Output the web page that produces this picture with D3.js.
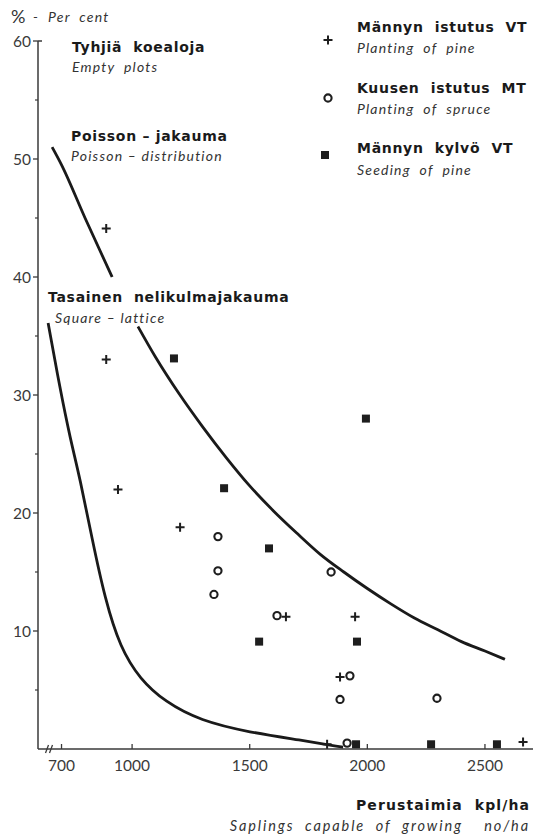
<!DOCTYPE html>
<html>
<head>
<meta charset="utf-8">
<script src="https://cdn.jsdelivr.net/npm/d3@7"></script>
<style>
  body { margin: 0; background: #fff; }
  text { font-family: Lato, "Open Sans", sans-serif; fill: #1e1e1e; white-space: pre; }
  .bold { font-family: "DejaVu Sans", sans-serif; font-weight: bold; font-size: 14px; letter-spacing: 0.7px; fill: #1a1a1a; }
  .ital { font-style: italic; font-size: 14px; letter-spacing: 1.2px; fill: #333; }
  .ital.wide { font-size: 14.5px; letter-spacing: 1.9px; }
  .bold.wide { letter-spacing: 1.1px; }
  .tick { font-size: 15.5px; fill: #3a3a3a; }
</style>
</head>
<body>
<script>
// data: saplings no/ha, per cent empty plots
var pinePlanting = [
  [890, 44.1], [890, 33.0], [940, 22.0], [1204, 18.8], [1654, 11.2],
  [1948, 11.2], [1884, 6.1], [1829, 0.4], [2662, 0.6]
];
var sprucePlanting = [
  [1365, 18.0], [1365, 15.1], [1348, 13.1], [1616, 11.3], [1846, 15.0],
  [1926, 6.2], [1884, 4.2], [2296, 4.3], [1914, 0.5]
];
var pineSeeding = [
  [1178, 33.1], [1391, 22.1], [1582, 17.0], [1994, 28.0], [1540, 9.1],
  [1956, 9.1], [1952, 0.4], [2271, 0.4], [2551, 0.4]
];
var poissonCurve = [
  [660, 51.0], [700, 49.5], [800, 45.0], [915, 40.0],
  [1025, 35.8], [1100, 33.2], [1200, 30.1], [1300, 27.3], [1400, 24.7],
  [1500, 22.3], [1600, 20.2], [1700, 18.3], [1800, 16.5], [1900, 15.0],
  [2000, 13.6], [2100, 12.3], [2200, 11.1], [2300, 10.1], [2400, 9.1],
  [2500, 8.3], [2585, 7.6]
];
var latticeCurve = [
  [643, 36.1], [694, 30.5], [737, 26.3], [779, 22.9], [830, 17.8],
  [885, 12.7], [949, 8.6], [1034, 5.9], [1140, 4.0], [1289, 2.4],
  [1501, 1.4], [1714, 0.76], [1897, 0.15]
];
var xTicks = [700, 1000, 1500, 2000, 2500];
var yTicks = [0, 10, 20, 30, 40, 50, 60];
var yMinor = [5, 15, 25, 35, 45, 55];

var svg = d3.select("body").append("svg")
    .attr("width", 541)
    .attr("height", 836);

var x = d3.scaleLinear().domain([600, 2700]).range([38, 532]);
var y = d3.scaleLinear().domain([0, 60]).range([749, 41]);

// axes
var axisCol = "#3a3a3a";
svg.append("line").attr("x1", 38).attr("x2", 38).attr("y1", y(60)).attr("y2", 749)
    .attr("stroke", axisCol).attr("stroke-width", 1.5);
svg.append("line").attr("x1", 38).attr("x2", 42).attr("y1", y(60)).attr("y2", y(60))
    .attr("stroke", axisCol).attr("stroke-width", 1.5);
svg.append("line").attr("x1", 38).attr("x2", 533).attr("y1", 749).attr("y2", 749)
    .attr("stroke", axisCol).attr("stroke-width", 1.5);

// axis break marks
[47, 51].forEach(function(bx) {
    svg.append("line")
        .attr("x1", bx - 1.5).attr("y1", 753).attr("x2", bx + 1.5).attr("y2", 745)
        .attr("stroke", axisCol).attr("stroke-width", 1.3);
});

svg.selectAll(".ytick").data(yTicks.slice(1))
  .enter().append("line")
    .attr("x1", 33).attr("x2", 38)
    .attr("y1", function(d) { return y(d); })
    .attr("y2", function(d) { return y(d); })
    .attr("stroke", axisCol).attr("stroke-width", 1.3);
svg.selectAll(".yminor").data(yMinor)
  .enter().append("line")
    .attr("x1", 35).attr("x2", 38)
    .attr("y1", function(d) { return y(d); })
    .attr("y2", function(d) { return y(d); })
    .attr("stroke", axisCol).attr("stroke-width", 1.2);
svg.selectAll(".ylab").data(yTicks.slice(1))
  .enter().append("text")
    .attr("class", "tick")
    .attr("x", 31).attr("y", function(d) { return y(d) + 6; })
    .attr("text-anchor", "end")
    .text(function(d) { return d; });

svg.selectAll(".xtick").data(xTicks)
  .enter().append("line")
    .attr("x1", function(d) { return x(d); })
    .attr("x2", function(d) { return x(d); })
    .attr("y1", 744).attr("y2", 749)
    .attr("stroke", axisCol).attr("stroke-width", 1.3);
svg.selectAll(".xlab").data(xTicks)
  .enter().append("text")
    .attr("class", "tick")
    .attr("x", function(d) { return x(d); }).attr("y", 771)
    .attr("text-anchor", "middle")
    .text(function(d) { return d; });

// curves
var line = d3.line()
    .x(function(d) { return x(d[0]); })
    .y(function(d) { return y(d[1]); })
    .curve(d3.curveMonotoneX);

svg.append("path").datum(poissonCurve.filter(function(d) { return d[0] <= 915; }))
    .attr("d", line).attr("fill", "none").attr("stroke", "#1a1a1a").attr("stroke-width", 2.8);
svg.append("path").datum(poissonCurve.filter(function(d) { return d[0] >= 1025; }))
    .attr("d", line).attr("fill", "none").attr("stroke", "#1a1a1a").attr("stroke-width", 2.8);
svg.append("path").datum(latticeCurve)
    .attr("d", line.curve(d3.curveBasis)).attr("fill", "none").attr("stroke", "#1a1a1a").attr("stroke-width", 2.8);

// markers
function plus(g, cx, cy) {
    g.append("path")
        .attr("d", "M" + (cx - 4.5) + "," + cy + "H" + (cx + 4.5) + "M" + cx + "," + (cy - 4.5) + "V" + (cy + 4.5))
        .attr("stroke", "#1e1e1e").attr("stroke-width", 2);
}
function ring(g, cx, cy) {
    g.append("circle").attr("cx", cx).attr("cy", cy).attr("r", 3.6)
        .attr("fill", "none").attr("stroke", "#1e1e1e").attr("stroke-width", 2.1);
}
function square(g, cx, cy) {
    g.append("rect").attr("x", cx - 4).attr("y", cy - 4).attr("width", 8).attr("height", 8)
        .attr("fill", "#1e1e1e");
}

var pts = svg.append("g");
pinePlanting.forEach(function(d) { plus(pts, x(d[0]), y(d[1])); });
sprucePlanting.forEach(function(d) { ring(pts, x(d[0]), y(d[1])); });
pineSeeding.forEach(function(d) { square(pts, x(d[0]), y(d[1])); });

// labels
function label(tx, ty, cls, str, anchor) {
    svg.append("text").attr("class", cls).attr("x", tx).attr("y", ty)
        .attr("text-anchor", anchor || "start").text(str);
}
svg.append("text").attr("x", 11).attr("y", 23)
    .style("font-size", "18px").style("fill", "#333").text("%");
label(33, 22, "ital", "-  Per  cent");

label(72, 52, "bold", "Tyhjiä  koealoja");
label(72, 72, "ital", "Empty  plots");
label(71, 141, "bold", "Poisson – jakauma");
label(71, 161, "ital", "Poisson – distribution");
label(48, 302, "bold", "Tasainen  nelikulmajakauma");
label(55, 323, "ital", "Square – lattice");

plus(svg, 328, 40);
label(357, 32, "bold", "Männyn  istutus  VT");
label(357, 53, "ital", "Planting  of  pine");
ring(svg, 328, 98);
label(357, 93, "bold", "Kuusen  istutus  MT");
label(357, 114, "ital", "Planting  of  spruce");
square(svg, 325, 155);
label(357, 153, "bold", "Männyn  kylvö  VT");
label(357, 175, "ital", "Seeding  of  pine");

label(530, 810, "bold wide", "Perustaimia  kpl/ha", "end");
label(530, 831, "ital wide", "Saplings  capable  of  growing    no/ha", "end");
</script>
</body>
</html>
